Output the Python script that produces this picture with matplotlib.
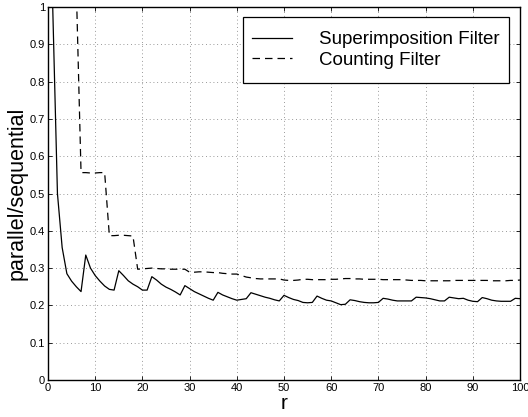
import numpy as np
import matplotlib
matplotlib.use('Agg')
import matplotlib.pyplot as plt
from matplotlib.patches import Rectangle

plt.rcParams['font.family'] = ['Liberation Sans', 'DejaVu Sans']

#===================================data===================================#
r_super = np.arange(1, 101)
super_vals = [
    1.000, 0.500, 0.355, 0.285, 0.265, 0.250, 0.237, 0.335, 0.300, 0.280,
    0.265, 0.252, 0.243, 0.241, 0.293, 0.280, 0.266, 0.257, 0.250, 0.241,
    0.241, 0.277, 0.268, 0.257, 0.249, 0.243, 0.236, 0.228, 0.253, 0.245,
    0.237, 0.231, 0.225, 0.219, 0.214, 0.235, 0.228, 0.223, 0.218, 0.214,
    0.216, 0.218, 0.234, 0.230, 0.226, 0.222, 0.219, 0.215, 0.212, 0.227,
    0.221, 0.216, 0.213, 0.208, 0.207, 0.208, 0.225, 0.219, 0.214, 0.212,
    0.207, 0.202, 0.203, 0.215, 0.213, 0.210, 0.208, 0.207, 0.207, 0.208,
    0.219, 0.217, 0.214, 0.212, 0.212, 0.212, 0.212, 0.222, 0.221, 0.220,
    0.218, 0.215, 0.212, 0.212, 0.222, 0.220, 0.218, 0.219, 0.214, 0.211,
    0.210, 0.221, 0.218, 0.214, 0.212, 0.211, 0.211, 0.211, 0.219, 0.218,
]

r_count = np.arange(6, 101)
count_vals = [
    1.050, 0.556, 0.556, 0.555, 0.555, 0.556, 0.556, 0.387, 0.387, 0.388,
    0.388, 0.387, 0.386, 0.297, 0.298, 0.299, 0.300, 0.299, 0.298, 0.298,
    0.297, 0.297, 0.297, 0.297, 0.289, 0.289, 0.290, 0.290, 0.289, 0.288,
    0.288, 0.286, 0.285, 0.284, 0.284, 0.280, 0.276, 0.274, 0.272, 0.271,
    0.271, 0.271, 0.271, 0.271, 0.268, 0.267, 0.267, 0.268, 0.270, 0.270,
    0.269, 0.269, 0.269, 0.269, 0.270, 0.270, 0.271, 0.272, 0.272, 0.271,
    0.271, 0.270, 0.270, 0.270, 0.270, 0.269, 0.269, 0.269, 0.269, 0.269,
    0.268, 0.267, 0.267, 0.267, 0.266, 0.266, 0.266, 0.266, 0.266, 0.266,
    0.267, 0.267, 0.267, 0.267, 0.267, 0.267, 0.267, 0.267, 0.266, 0.266,
    0.266, 0.266, 0.267, 0.267, 0.268,
]

xticks = np.arange(0, 101, 10)
yticks = np.arange(0, 1.01, 0.1)

#===================================plot===================================#
fig = plt.figure(figsize=(5.28, 4.17), dpi=100)
ax = fig.add_axes([48/528, 37/417, 472/528, 373/417])

ax.plot(r_super, super_vals, color='black', linewidth=0.9, label='Superimposition Filter')
ax.plot(r_count, count_vals, color='black', linewidth=0.9, linestyle=(0, (6, 4)), label='Counting Filter')

ax.set_xlim(0, 100)
ax.set_ylim(0, 1)
ax.set_xticks(xticks)
ax.set_yticks(yticks)
ax.set_xticklabels([f"{int(t)}" for t in xticks])
ax.set_yticklabels(['0'] + [f"{t:.1f}" for t in yticks[1:-1]] + ['1'])
ax.tick_params(axis='both', which='major', direction='in', length=3, width=0.6,
               labelsize=8, top=True, right=True, pad=2)
for sp in ax.spines.values():
    sp.set_linewidth(1.0)

ax.grid(True, linestyle=(0, (1, 3.5)), linewidth=0.6, color='#777777')

ax.set_xlabel('r', fontsize=15, labelpad=1)
ax.set_ylabel('parallel/sequential', fontsize=15.5, labelpad=2)

# legend: frame drawn as a plain box, entries centred inside it
box_x0, box_x1 = 0.413, 0.977
box_y0, box_y1 = 0.796, 0.973
ax.add_patch(Rectangle((box_x0, box_y0), box_x1 - box_x0, box_y1 - box_y0, transform=ax.transAxes,
                       facecolor='white', edgecolor='black', linewidth=0.9, zorder=4))
leg = ax.legend(loc='center', bbox_to_anchor=((box_x0 + box_x1) / 2, (box_y0 + box_y1) / 2),
                fontsize=13.5, frameon=False, handlelength=2.1, handletextpad=1.45,
                borderpad=0, labelspacing=0.18, borderaxespad=0)
leg.set_zorder(5)

fig.savefig('out.png', dpi=100)
